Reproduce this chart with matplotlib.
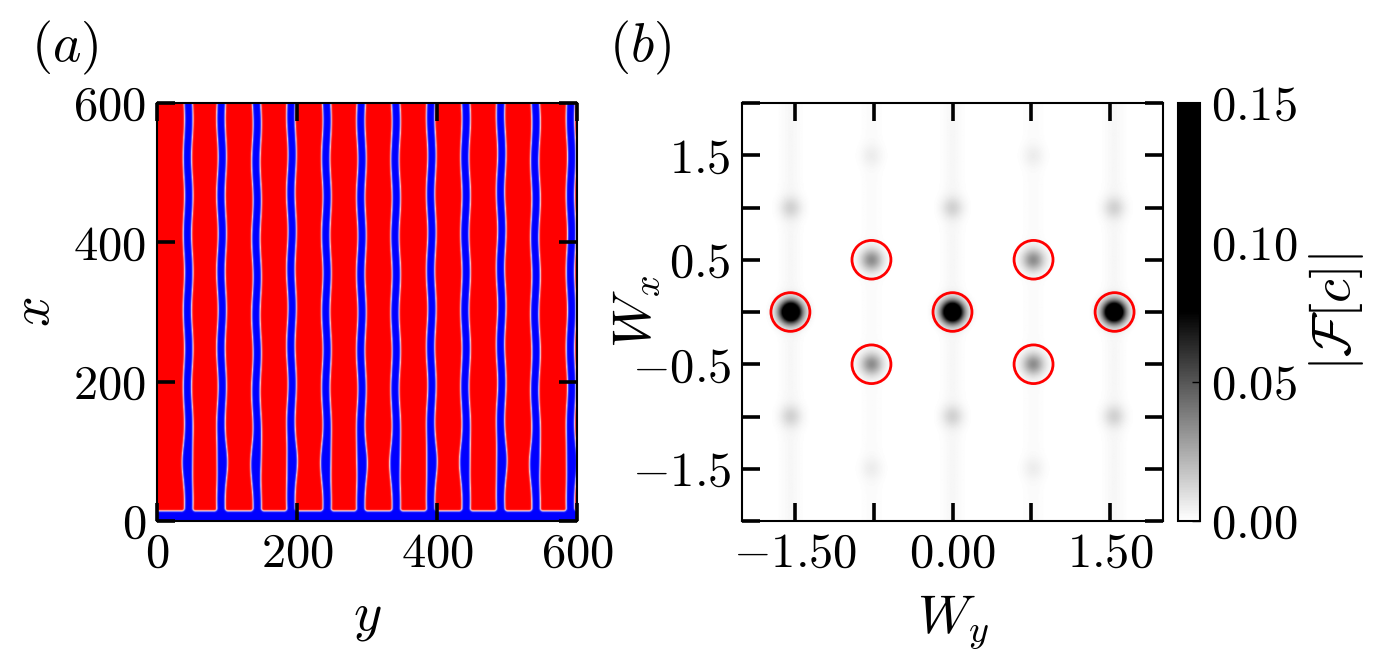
import numpy as np
import matplotlib
matplotlib.use('Agg')
import matplotlib.pyplot as plt
from matplotlib.colors import LinearSegmentedColormap
from matplotlib.patches import Circle

plt.rcParams['mathtext.fontset'] = 'cm'
plt.rcParams['font.family'] = 'serif'
plt.rcParams['font.serif'] = ['cmr10', 'DejaVu Serif']

# ---- panel (a): stripe pattern ----
stripe_y = [44, 92, 142, 192, 242, 292, 341, 392, 441, 492, 541, 592]
stripe_phase = [0.0, 3.1, 0.4, 2.9, 0.1, 3.3, 0.2, 3.0, 0.0, 2.8, 0.3, 3.1]
wiggle_amp = 1.0        # sideways wobble of each blue line
wiggle_len = 110        # wobble period along x
line_halfwidth = 6.0    # half width of a blue line
neck_x = 85             # where the blue lines widen near the bottom
neck_extra = 1.5
base_layer = 14         # blue film along x = 0
a_ticks = [0, 200, 400, 600]

# ---- panel (b): Fourier peaks ----
peak_wy = [-1.54, 0.0, 1.54,
           -0.77, 0.77, -0.77, 0.77,
           -1.54, 0.0, 1.54, -1.54, 0.0, 1.54,
           -0.77, 0.77, -0.77, 0.77]
peak_wx = [0.0, 0.0, 0.0,
           0.5, 0.5, -0.5, -0.5,
           1.0, 1.0, 1.0, -1.0, -1.0, -1.0,
           1.5, 1.5, -1.5, -1.5]
peak_amp = [0.14, 0.14, 0.14,
            0.032, 0.032, 0.032, 0.032,
            0.011, 0.011, 0.011, 0.011, 0.011, 0.011,
            0.004, 0.004, 0.004, 0.004]
streak_wy = [-1.54, -0.77, 0.0, 0.77, 1.54]
streak_amp = [0.0025, 0.0015, 0.0025, 0.0015, 0.0025]
circle_wy = [-1.54, -0.77, -0.77, 0.0, 0.77, 0.77, 1.54]
circle_wx = [0.0, 0.5, -0.5, 0.0, 0.5, -0.5, 0.0]
circle_r = 0.185

b_xticks = [-1.5, -0.75, 0.0, 0.75, 1.5]
b_xlabels = [r'$-1.50$', '', r'$0.00$', '', r'$1.50$']
b_yticks = [-2.0, -1.5, -1.0, -0.5, 0.0, 0.5, 1.0, 1.5, 2.0]
b_ylabels = ['', r'$-1.5$', '', r'$-0.5$', '', r'$0.5$', '', r'$1.5$', '']
cb_ticks = [0.0, 0.05, 0.10, 0.15]
cb_labels = [r'$0.00$', r'$0.05$', r'$0.10$', r'$0.15$']

tick_fs = 35
label_fs = 39

W, H = 1377, 660
fig = plt.figure(figsize=(W / 100, H / 100), dpi=100)


def px_axes(x0, y0, x1, y1):
    return fig.add_axes([x0 / W, 1 - y1 / H, (x1 - x0) / W, (y1 - y0) / H])


def style(ax):
    ax.tick_params(direction='in', length=13, width=2.6, top=True, right=True,
                   labelsize=tick_fs, pad=8)
    for s in ax.spines.values():
        s.set_linewidth(1.5)


# build the c field for (a)
xs = np.linspace(0, 600, 600)
Yc, Xr = np.meshgrid(xs, xs)
d = np.full(Yc.shape, 1e9)
for c0, ph in zip(stripe_y, stripe_phase):
    centre = c0 + wiggle_amp * np.sin(2 * np.pi * Xr / wiggle_len + ph)
    d = np.minimum(d, np.abs(Yc - centre))
hw = line_halfwidth + neck_extra * np.exp(-((Xr - neck_x) / 30.0) ** 2)
r = 4.0
a2 = d - hw - r
b2 = Xr - base_layer - r
sd = np.where((a2 > 0) & (b2 > 0), np.minimum(a2, b2),
              -np.sqrt(np.minimum(a2, 0) ** 2 + np.minimum(b2, 0) ** 2)) + r
cfield = np.tanh(sd / 1.3)

ax1 = px_axes(157, 103, 577, 521)
ax1.imshow(cfield, origin='lower', extent=[0, 600, 0, 600], cmap='bwr',
           vmin=-1, vmax=1, aspect='auto', interpolation='bilinear')
ax1.set_xlim(0, 600)
ax1.set_ylim(0, 600)
ax1.set_xticks(a_ticks)
ax1.set_xticklabels([f'${t}$' for t in a_ticks])
ax1.set_yticks(a_ticks)
ax1.set_yticklabels([f'${t}$' for t in a_ticks])
style(ax1)
ax1.set_xlabel(r'$y$', fontsize=label_fs, labelpad=14)
ax1.set_ylabel(r'$x$', fontsize=label_fs, labelpad=10)

# Fourier amplitude for (b)
wv = np.linspace(-2, 2, 401)
WY, WX = np.meshgrid(wv, wv)
F = np.zeros(WY.shape)
for wy, wx, amp in zip(peak_wy, peak_wx, peak_amp):
    F += amp * np.exp(-((WY - wy) ** 2 + (WX - wx) ** 2) / (2 * 0.072 ** 2))
for wy, amp in zip(streak_wy, streak_amp):
    F += amp * np.exp(-(WY - wy) ** 2 / (2 * 0.07 ** 2))

cmap = LinearSegmentedColormap.from_list('fc', [(0, 'white'), (0.5, 'black'), (1, 'black')])
ax2 = px_axes(742, 103, 1163, 521)
im = ax2.imshow(F, origin='lower', extent=[-2, 2, -2, 2], cmap=cmap,
                vmin=0, vmax=0.15, aspect='auto', interpolation='bilinear')
for wy, wx in zip(circle_wy, circle_wx):
    ax2.add_patch(Circle((wy, wx), circle_r, fill=False, edgecolor='red', lw=2))
ax2.set_xlim(-2, 2)
ax2.set_ylim(-2, 2)
ax2.set_xticks(b_xticks)
ax2.set_xticklabels(b_xlabels)
ax2.set_yticks(b_yticks)
ax2.set_yticklabels(b_ylabels)
style(ax2)
ax2.set_xlabel(r'$W_y$', fontsize=label_fs, labelpad=12)
ax2.set_ylabel(r'$W_x$', fontsize=label_fs, labelpad=-22)

cax = px_axes(1178, 103, 1200, 521)
cb = fig.colorbar(im, cax=cax, ticks=cb_ticks)
cb.ax.set_yticklabels(cb_labels)
cb.ax.tick_params(direction='in', length=6, width=1, labelsize=tick_fs, pad=8)
cb.outline.set_linewidth(1.5)
cb.set_label(r'$|\mathcal{F}[c]|$', fontsize=label_fs, labelpad=7)

fig.text(65 / W, 1 - 48 / H, r'$(a)$', fontsize=label_fs, ha='center', va='center')
fig.text(640 / W, 1 - 48 / H, r'$(b)$', fontsize=label_fs, ha='center', va='center')

fig.savefig('out.png', dpi=100)
